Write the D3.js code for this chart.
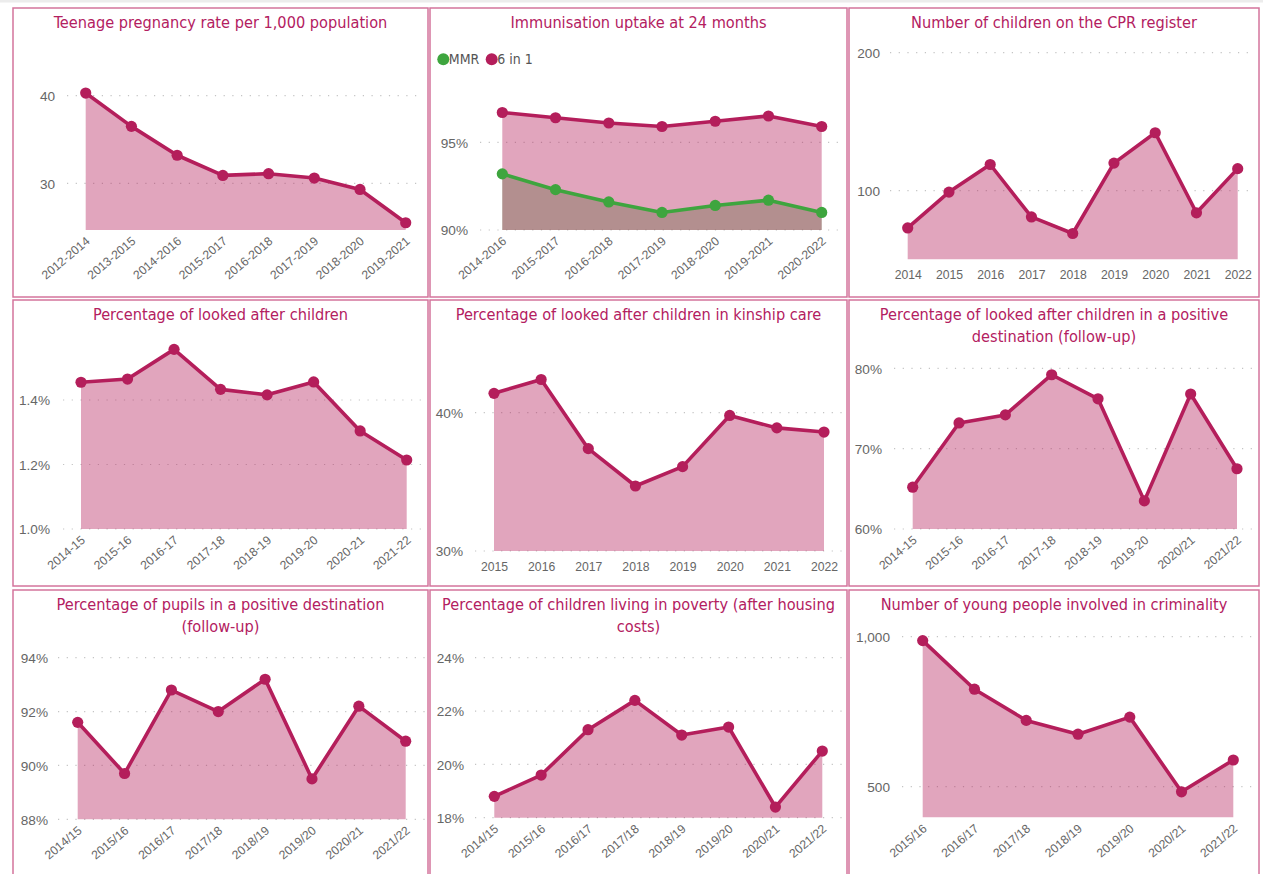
<!DOCTYPE html>
<html><head><meta charset="utf-8">
<script src="https://cdn.jsdelivr.net/npm/d3@7"></script>
<style>
body{margin:0;background:#fff;}
svg{display:block;font-family:"DejaVu Sans Condensed","DejaVu Sans",sans-serif;}
</style></head><body>
<svg id="c" width="1263" height="874"></svg>
<script>
// ---------- data ----------
const teenCats = ["2012-2014","2013-2015","2014-2016","2015-2017","2016-2018","2017-2019","2018-2020","2019-2021"];
const teenVals = [40.3, 36.5, 33.2, 30.9, 31.1, 30.6, 29.3, 25.5];
const teenTicks = [30, 40];

const immCats = ["2014-2016","2015-2017","2016-2018","2017-2019","2018-2020","2019-2021","2020-2022"];
const immMMR = [93.2, 92.3, 91.6, 91.0, 91.4, 91.7, 91.0];
const imm6in1 = [96.7, 96.4, 96.1, 95.9, 96.2, 96.5, 95.9];
const immTicks = [90, 95];
const immLegend = ["MMR", "6 in 1"];

const cprCats = ["2014","2015","2016","2017","2018","2019","2020","2021","2022"];
const cprVals = [73, 99, 119, 81, 69, 120, 142, 84, 116];
const cprTicks = [100, 200];

const lacCats = ["2014-15","2015-16","2016-17","2017-18","2018-19","2019-20","2020-21","2021-22"];
const lacVals = [1.455, 1.465, 1.557, 1.433, 1.416, 1.456, 1.304, 1.214];
const lacTicks = [1.0, 1.2, 1.4];

const kinCats = ["2015","2016","2017","2018","2019","2020","2021","2022"];
const kinVals = [41.4, 42.4, 37.4, 34.7, 36.1, 39.8, 38.9, 38.6];
const kinTicks = [30, 40];

const lacDestCats = ["2014-15","2015-16","2016-17","2017-18","2018-19","2019-20","2020/21","2021/22"];
const lacDestVals = [65.2, 73.2, 74.2, 79.2, 76.2, 63.5, 76.8, 67.5];
const lacDestTicks = [60, 70, 80];

const pupilCats = ["2014/15","2015/16","2016/17","2017/18","2018/19","2019/20","2020/21","2021/22"];
const pupilVals = [91.6, 89.7, 92.8, 92.0, 93.2, 89.5, 92.2, 90.9];
const pupilTicks = [88, 90, 92, 94];

const povCats = ["2014/15","2015/16","2016/17","2017/18","2018/19","2019/20","2020/21","2021/22"];
const povVals = [18.8, 19.6, 21.3, 22.4, 21.1, 21.4, 18.4, 20.5];
const povTicks = [18, 20, 22, 24];

const crimCats = ["2015/16","2016/17","2017/18","2018/19","2019/20","2020/21","2021/22"];
const crimVals = [987, 825, 721, 675, 732, 483, 589];
const crimTicks = [500, 1000];

// ---------- styles ----------
const LINE = "#b41e5b", GREEN = "#3ea53e", TITLE = "#b3205f", AXIS = "#666", BORDER = "#d4749c";
const pct0 = d => d + "%";
const pct1 = d => d.toFixed(1) + "%";
const num = d3.format(",");

// ---------- panel layout ----------
const panels = [
  {title:["Teenage pregnancy rate per 1,000 population"], box:[13,8,428,297], cats:teenCats,
   series:[{vals:teenVals,color:LINE}], ticks:teenTicks, fmt:num,
   xr:[85.7,405.7], yDom:[24.67,40], yR:[230,95.7], labX:55, grid:[67,421], rot:true},
  {title:["Immunisation uptake at 24 months"], box:[430,8,847,297], cats:immCats,
   series:[{vals:immMMR,color:GREEN},{vals:imm6in1,color:LINE}], ticks:immTicks, fmt:pct0,
   xr:[502.3,821.7], yDom:[90,95], yR:[230,142.3], labX:468, grid:[480,840], rot:true, legend:true},
  {title:["Number of children on the CPR register"], box:[849,8,1259,297], cats:cprCats,
   series:[{vals:cprVals,color:LINE}], ticks:cprTicks, fmt:num,
   xr:[907.7,1237.7], yDom:[50.3,200], yR:[259.3,52.7], labX:880, grid:[890,1252], rot:false},
  {title:["Percentage of looked after children"], box:[13,300,428,586], cats:lacCats,
   series:[{vals:lacVals,color:LINE}], ticks:lacTicks, fmt:pct1,
   xr:[81,406.7], yDom:[1.0,1.4], yR:[529,400], labX:50, grid:[63,422], rot:true},
  {title:["Percentage of looked after children in kinship care"], box:[430,300,847,586], cats:kinCats,
   series:[{vals:kinVals,color:LINE}], ticks:kinTicks, fmt:pct0,
   xr:[494,824], yDom:[30,40], yR:[551,412.7], labX:463, grid:[475,842], rot:false},
  {title:["Percentage of looked after children in a positive","destination (follow-up)"], box:[849,300,1259,586], cats:lacDestCats,
   series:[{vals:lacDestVals,color:LINE}], ticks:lacDestTicks, fmt:pct0,
   xr:[912.7,1237], yDom:[60,80], yR:[529,368.3], labX:882, grid:[894,1253], rot:true},
  {title:["Percentage of pupils in a positive destination","(follow-up)"], box:[13,590,428,880], cats:pupilCats,
   series:[{vals:pupilVals,color:LINE}], ticks:pupilTicks, fmt:pct0,
   xr:[77.7,405.7], yDom:[88,94], yR:[819.3,657.7], labX:48, grid:[58,425], rot:true},
  {title:["Percentage of children living in poverty (after housing","costs)"], box:[430,590,847,880], cats:povCats,
   series:[{vals:povVals,color:LINE}], ticks:povTicks, fmt:pct0,
   xr:[494.3,822.3], yDom:[18,24], yR:[817.7,657.7], labX:464, grid:[475,842], rot:true},
  {title:["Number of young people involved in criminality"], box:[849,590,1259,880], cats:crimCats,
   series:[{vals:crimVals,color:LINE}], ticks:crimTicks, fmt:num,
   xr:[922.7,1233.3], yDom:[398,1000], yR:[817.3,636.7], labX:890, grid:[902,1255], rot:true}
];

const svg = d3.select("#c");
svg.append("rect").attr("x",0).attr("y",0).attr("width",1263).attr("height",2.5).attr("fill","#ececec");

panels.forEach(p => {
  const g = svg.append("g");
  const [bx0,by0,bx1,by1] = p.box;
  g.append("rect").attr("x",bx0).attr("y",by0).attr("width",bx1-bx0).attr("height",by1-by0)
    .attr("fill","#fff").attr("stroke",BORDER).attr("stroke-width",1.5);

  // title
  const t = g.append("text").attr("text-anchor","middle").attr("fill",TITLE)
    .attr("font-size",16.2).attr("x",(bx0+bx1)/2).attr("y",by0+19.5);
  p.title.forEach((line,i) => t.append("tspan").attr("x",(bx0+bx1)/2).attr("dy", i ? 22 : 0).text(line));

  const x = d3.scalePoint().domain(p.cats).range(p.xr);
  const y = d3.scaleLinear().domain(p.yDom).range(p.yR);
  const base = y(p.yDom[0]);

  // gridlines
  g.selectAll(".grid").data(p.ticks).join("line")
    .attr("x1",p.grid[0]).attr("x2",p.grid[1]).attr("y1",d=>y(d)).attr("y2",d=>y(d))
    .attr("stroke","#c4c4c4").attr("stroke-width",1.2).attr("stroke-dasharray","1.2,7.5");

  // y axis labels
  const ya = g.append("g").attr("transform",`translate(${p.labX},0)`)
    .call(d3.axisLeft(y).tickValues(p.ticks).tickFormat(p.fmt).tickSize(0).tickPadding(0));
  ya.select(".domain").remove();
  ya.selectAll("text").attr("fill",AXIS).attr("font-size",13.6).attr("font-family",null).attr("dy","0.36em");

  // x axis labels
  const xa = g.append("g").attr("transform",`translate(0,${base})`)
    .call(d3.axisBottom(x).tickSize(0).tickPadding(0));
  xa.select(".domain").remove();
  xa.selectAll("text").attr("fill",AXIS).attr("font-size",12.2).attr("font-family",null);
  if (p.rot) {
    xa.selectAll("text").attr("y",0).attr("dy",0).attr("text-anchor","end")
      .attr("transform","translate(4.5,12.5) rotate(-40)");
  } else {
    xa.selectAll("text").attr("y",20).attr("dy",0);
  }

  // areas
  p.series.forEach(s => {
    const area = d3.area().x((d,i)=>x(p.cats[i])).y0(base).y1(d=>y(d));
    g.append("path").datum(s.vals).attr("d",area).attr("fill",s.color).attr("fill-opacity",0.4);
  });
  // lines and markers
  p.series.forEach(s => {
    const line = d3.line().x((d,i)=>x(p.cats[i])).y(d=>y(d));
    g.append("path").datum(s.vals).attr("d",line).attr("fill","none").attr("stroke",s.color)
      .attr("stroke-width",3.6).attr("stroke-linejoin","round");
    g.selectAll(null).data(s.vals).join("circle")
      .attr("cx",(d,i)=>x(p.cats[i])).attr("cy",d=>y(d)).attr("r",5.6).attr("fill",s.color);
  });

  if (p.legend) {
    const lg = g.append("g");
    const items = [{label:immLegend[0],color:GREEN,cx:443.3},{label:immLegend[1],color:LINE,cx:491.7}];
    items.forEach(it => {
      lg.append("circle").attr("cx",it.cx).attr("cy",59.3).attr("r",6).attr("fill",it.color);
      lg.append("text").attr("x",it.cx+5.5).attr("y",64.3).attr("font-size",14).attr("fill","#555").text(it.label);
    });
  }
});
</script>
</body></html>
